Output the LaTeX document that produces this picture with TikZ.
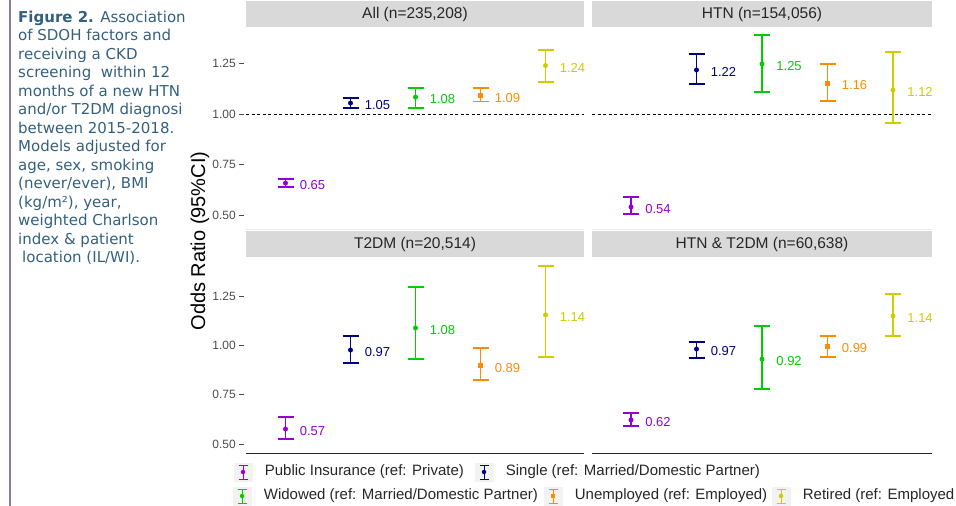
\documentclass[tikz,border=0pt]{standalone}
\usepackage{fontspec}
\setmainfont{Liberation Sans}
\newfontfamily\capfont{DejaVu Sans}
\usetikzlibrary{positioning}
\definecolor{cPublic}{HTML}{9400D3}
\definecolor{cSingle}{HTML}{000080}
\definecolor{cWidowed}{HTML}{00CD00}
\definecolor{cUnemp}{HTML}{FF8C00}
\definecolor{cRetired}{HTML}{CDCD00}
\definecolor{cStrip}{HTML}{D9D9D9}
\definecolor{cKey}{HTML}{F2F2F2}
\definecolor{cCaption}{HTML}{33607F}
\definecolor{cRule}{HTML}{8B7E96}
\colorlet{cat1}{cPublic}
\colorlet{cat2}{cSingle}
\colorlet{cat3}{cWidowed}
\colorlet{cat4}{cUnemp}
\colorlet{cat5}{cRetired}
\tikzset{
  stripbox/.style={
    fill=cStrip, inner sep=0pt, minimum height=26pt,
    font=\fontsize{15.5}{15.5}\selectfont, text=black!85
  },
  ticklab/.style={
    anchor=east, inner sep=0pt,
    font=\fontsize{12}{12}\selectfont, text=black!70
  },
  tickmark/.style={draw=black!70, line width=0.7pt},
  cibar/.style={draw=#1, line width=1.2pt},
  estmark/.style 2 args={
    #1, fill=#2, inner sep=0pt, minimum size=5pt
  },
  vallab/.style={
    inner sep=0pt, font=\fontsize{13}{13}\selectfont, text=#1
  },
  refline/.style={draw=black, line width=0.8pt, dash pattern=on 3pt off 2.5pt},
  axisline/.style={draw=black!85, line width=1pt},
  faintline/.style={draw=black!8, line width=1pt},
  keybox/.style={fill=cKey, minimum size=19pt, inner sep=0pt},
  keytext/.style={
    inner sep=0pt, font=\fontsize{15}{15}\selectfont, text=black!85
  },
}
\begin{document}
\begin{tikzpicture}[x=1pt, y=-1pt]
\useasboundingbox (0,0) rectangle (956,506);

% caption column
\draw[cRule, line width=2pt] (9.5,0) -- (9.5,506);
\node[anchor=north west, align=left, inner sep=0pt, text=cCaption,
      font=\capfont\fontsize{15}{18.5}\selectfont] (caption) at (18,10.5)
  {\textbf{Figure 2.} Association\\
   of SDOH factors and\\
   receiving a CKD\\
   screening\ \ within 12\\
   months of a new HTN\\
   and/or T2DM diagnosi\\
   between 2015-2018.\\
   Models adjusted for\\
   age, sex, smoking\\
   (never/ever), BMI\\
   (kg/m²), year,\\
   weighted Charlson\\
   index \& patient\\
   \hspace*{4pt}location (IL/WI).};

% axis title
\node[rotate=90, font=\fontsize{20}{20}\selectfont] (ytitle) at (200,241)
  {Odds Ratio (95\%CI)};

% facet strips
\node[stripbox, minimum width=338pt] (sAll) at (415,14) {All (n=235,208)};
\node[stripbox, minimum width=340pt] (sHTN) at (762,14) {HTN (n=154,056)};
\node[stripbox, minimum width=338pt] (sT2DM) at (415,244) {T2DM (n=20,514)};
\node[stripbox, minimum width=340pt] (sBoth) at (762,244) {HTN \& T2DM (n=60,638)};

% panel bottoms
\draw[faintline] (246,229) -- (584,229);
\draw[faintline] (592,229) -- (932,229);
\draw[axisline] (246,453) -- (584,453);
\draw[axisline] (592,453) -- (932,453);

% row 1: All
\begin{scope}[shift={(0pt,-316pt)}, y=202pt]
  \foreach \v [count=\k] in {0.50,0.75,1.00,1.25} {
    \draw[tickmark] (239,\v) -- (244,\v);
    \node[ticklab] (tickA\k) at (236,\v) {\v};
  }
  \draw[refline] (246,1) -- (584,1);
  \foreach \i/\shp/\est/\lo/\hi/\lab [evaluate=\i as \x using 220.5+65*\i] in {
      1/circle/0.658/0.639/0.678/0.65,
      2/circle/1.054/1.030/1.079/1.05,
      3/circle/1.084/1.030/1.129/1.08,
      4/rectangle/1.090/1.060/1.129/1.09,
      5/circle/1.240/1.158/1.317/1.24} {
    \draw[cibar=cat\i] (\x-8,\lo) -- (\x+8,\lo) (\x,\lo) -- (\x,\hi) (\x-8,\hi) -- (\x+8,\hi);
    \node[estmark={\shp}{cat\i}] (all-est\i) at (\x,\est) {};
    \node[vallab=cat\i, right=11.5pt of all-est\i, yshift=-2pt] (all-lab\i) {\lab};
  }
\end{scope}

% row 1: HTN
\begin{scope}[shift={(0pt,-316pt)}, y=202pt]
  \draw[refline] (592,1) -- (932,1);
  \foreach \i/\shp/\est/\lo/\hi/\lab [evaluate=\i as \x using 565.5+65.5*\i] in {
      1/circle/0.540/0.505/0.589/0.54,
      2/circle/1.218/1.149/1.297/1.22,
      3/circle/1.248/1.109/1.391/1.25,
      4/rectangle/1.153/1.064/1.248/1.16,
      5/circle/1.119/0.955/1.307/1.12} {
    \draw[cibar=cat\i] (\x-8,\lo) -- (\x+8,\lo) (\x,\lo) -- (\x,\hi) (\x-8,\hi) -- (\x+8,\hi);
    \node[estmark={\shp}{cat\i}] (htn-est\i) at (\x,\est) {};
    \node[vallab=cat\i, right=11.5pt of htn-est\i, yshift=-2pt] (htn-lab\i) {\lab};
  }
\end{scope}

% row 2: T2DM
\begin{scope}[shift={(0pt,-542.5pt)}, y=197pt]
  \foreach \v [count=\k] in {0.50,0.75,1.00,1.25} {
    \draw[tickmark] (239,\v) -- (244,\v);
    \node[ticklab] (tickB\k) at (236,\v) {\v};
  }
  \foreach \i/\shp/\est/\lo/\hi/\lab [evaluate=\i as \x using 220.5+65*\i] in {
      1/circle/0.576/0.525/0.637/0.57,
      2/circle/0.977/0.911/1.048/0.97,
      3/circle/1.089/0.931/1.297/1.08,
      4/rectangle/0.896/0.825/0.987/0.89,
      5/circle/1.155/0.942/1.404/1.14} {
    \draw[cibar=cat\i] (\x-8,\lo) -- (\x+8,\lo) (\x,\lo) -- (\x,\hi) (\x-8,\hi) -- (\x+8,\hi);
    \node[estmark={\shp}{cat\i}] (t2dm-est\i) at (\x,\est) {};
    \node[vallab=cat\i, right=11.5pt of t2dm-est\i, yshift=-2pt] (t2dm-lab\i) {\lab};
  }
\end{scope}

% row 2: HTN & T2DM
\begin{scope}[shift={(0pt,-542.5pt)}, y=197pt]
  \foreach \i/\shp/\est/\lo/\hi/\lab [evaluate=\i as \x using 565.5+65.5*\i] in {
      1/circle/0.622/0.591/0.657/0.62,
      2/circle/0.982/0.937/1.018/0.97,
      3/circle/0.931/0.779/1.099/0.92,
      4/rectangle/0.997/0.942/1.048/0.99,
      5/circle/1.150/1.048/1.261/1.14} {
    \draw[cibar=cat\i] (\x-8,\lo) -- (\x+8,\lo) (\x,\lo) -- (\x,\hi) (\x-8,\hi) -- (\x+8,\hi);
    \node[estmark={\shp}{cat\i}] (both-est\i) at (\x,\est) {};
    \node[vallab=cat\i, right=11.5pt of both-est\i, yshift=-2pt] (both-lab\i) {\lab};
  }
\end{scope}

% legend
\node[keybox] (key1) at (243,472) {};
\node[keytext, right=12pt of key1] (leg1) {Public Insurance (ref: Private)};
\node[keybox] (key2) at (484,472) {};
\node[keytext, right=12pt of key2] (leg2) {Single (ref: Married/Domestic Partner)};
\node[keybox] (key3) at (242,496) {};
\node[keytext, right=12pt of key3] (leg3) {Widowed (ref: Married/Domestic Partner)};
\node[keybox] (key4) at (553,496) {};
\node[keytext, right=12pt of key4] (leg4) {Unemployed (ref: Employed)};
\node[keybox] (key5) at (781,496) {};
\node[keytext, right=12pt of key5] (leg5) {Retired (ref: Employed};
\foreach \k/\shp in {1/circle,2/circle,3/circle,4/rectangle,5/circle} {
  \draw[cibar=cat\k, line width=1pt, shift={(key\k.center)}]
    (-4.5,-7) -- (4.5,-7) (0,-7) -- (0,7) (-4.5,7) -- (4.5,7);
  \node[estmark={\shp}{cat\k}, minimum size=4.5pt] (keydot\k) at (key\k.center) {};
}

\end{tikzpicture}
\end{document}
